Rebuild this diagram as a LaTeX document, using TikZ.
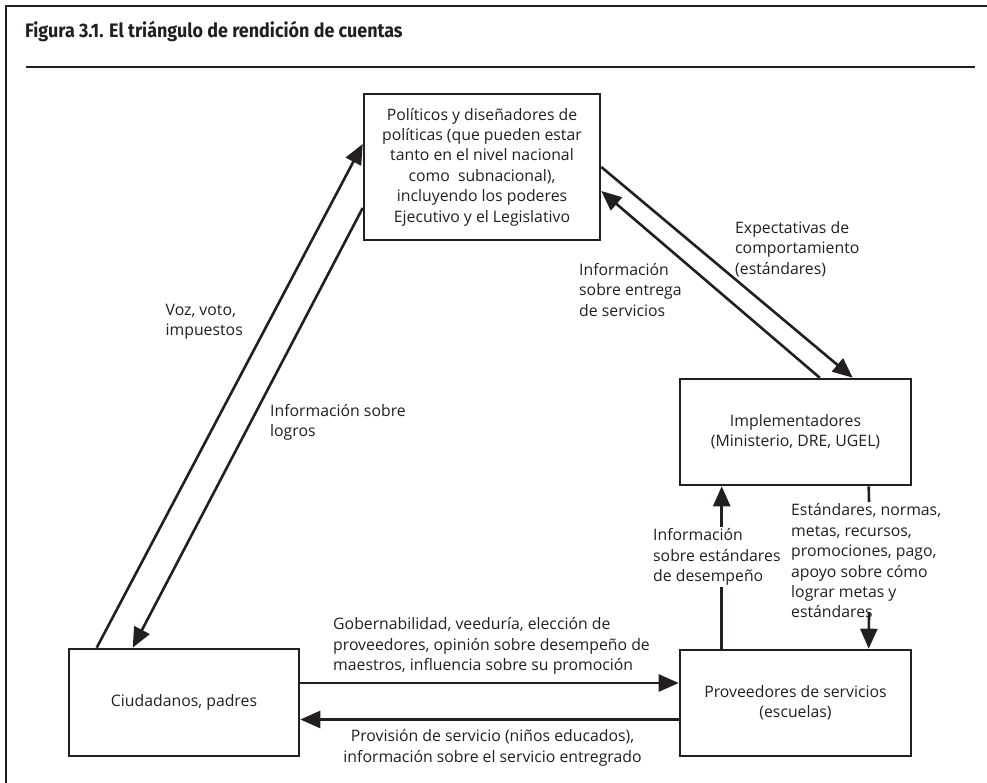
\documentclass[tikz,border=0pt]{standalone}
\usepackage{fontspec}
\setmainfont{Open Sans}
\newfontfamily\titlefnt{Fira Sans}[FakeStretch=0.92]
\usetikzlibrary{arrows.meta}
\definecolor{ink}{RGB}{35,31,32}
\newcommand\bodyfnt{\fontsize{15.8}{20.4}\selectfont}
\begin{document}
\begin{tikzpicture}[x=1pt,y=-1pt,
  box/.style={draw=ink, line width=2.6pt, rectangle, inner sep=0pt, align=center, text=ink, font=\bodyfnt},
  conn/.style={draw=ink, line width=2.6pt},
  arr/.style={conn, -{Triangle[length=20pt,width=17pt]}},
  lbl/.style={inner sep=0pt, text=ink, font=\bodyfnt, align=left, anchor=west},
  frame/.style={draw=ink, line width=2.5pt, line join=miter}
]
\useasboundingbox (0,0) rectangle (987,783);
\fill[white] (0,0) rectangle (987,783);
% frame and header
\draw[frame] (987,6) -- (6,6) -- (6,783);
\node[anchor=base west, inner sep=0pt, text=ink, font=\titlefnt\bfseries\fontsize{19.5}{22}\selectfont] (title) at (25,38) {Figura 3.1. El triángulo de rendición de cuentas};
\draw[ink, line width=1.5pt] (26,67) -- (975,67);

% boxes
\node[box, minimum width=236pt, minimum height=146pt] (pol) at (482,167) {Políticos y diseñadores de\\políticas (que pueden estar\\tanto en el nivel nacional\\como\ \ subnacional),\\incluyendo los poderes\\Ejecutivo y el Legislativo};
\node[box, minimum width=230pt, minimum height=107pt] (ciud) at (184,702.5) {Ciudadanos, padres};
\node[box, minimum width=231pt, minimum height=106pt] (impl) at (795.5,432) {Implementadores\\(Ministerio, DRE, UGEL)};
\node[box, minimum width=231pt, minimum height=106pt] (prov) at (795.5,703) {Proveedores de servicios\\(escuelas)};

% left pair
\draw[arr] ([xshift=29pt]ciud.north west) -- ([yshift=23pt]pol.west);
\draw[arr] ([yshift=-41pt]pol.west) -- ([xshift=65pt]ciud.north west);
% right pair
\draw[arr] (pol.east) -- ([xshift=174pt]impl.north west);
\draw[arr] ([xshift=141pt]impl.north west) -- ([yshift=-24pt]pol.east);
% vertical up
\draw[arr] ([xshift=43pt]prov.north west) -- ([xshift=43pt]impl.south west);
% vertical down (broken by label)
\coordinate (e1) at (869,502);
\coordinate (e2) at (869,612);
\draw[conn] ([xshift=190pt]impl.south west) -- (e1);
\draw[arr] (e2) -- ([xshift=190pt]prov.north west);
% horizontals
\draw[arr] ([yshift=19.5pt]ciud.east) -- ([yshift=20pt]prov.west);
\draw[arr] ([yshift=-16.5pt]prov.west) -- ([yshift=-17pt]ciud.east);

% labels
\node[lbl, anchor=east] (lvoz) at (243,321.5) {Voz, voto,\\impuestos};
\node[lbl] (llog) at (270,422.5) {Información sobre\\logros};
\node[lbl] (lent) at (579,290) {Información\\sobre entrega\\de servicios};
\node[lbl] (lexp) at (735,249) {Expectativas de\\comportamiento\\(estándares)};
\node[lbl, fill=white, inner ysep=2pt] (lest) at (653,557) {Información\\sobre estándares\\de desempeño};
\node[lbl] (lnor) at (791,561) {Estándares, normas,\\metas, recursos,\\promociones, pago,\\apoyo sobre cómo\\lograr metas y\\estándares};
\node[lbl] (lgob) at (333,646) {Gobernabilidad, veeduría, elección de\\proveedores, opinión sobre desempeño de\\maestros, influencia sobre su promoción};
\node[lbl, align=center, anchor=center, font=\fontsize{15.8}{21}\selectfont] (lprov) at (492.5,747.5) {Provisión de servicio (niños educados),\\información sobre el servicio entregrado};
\end{tikzpicture}
\end{document}
